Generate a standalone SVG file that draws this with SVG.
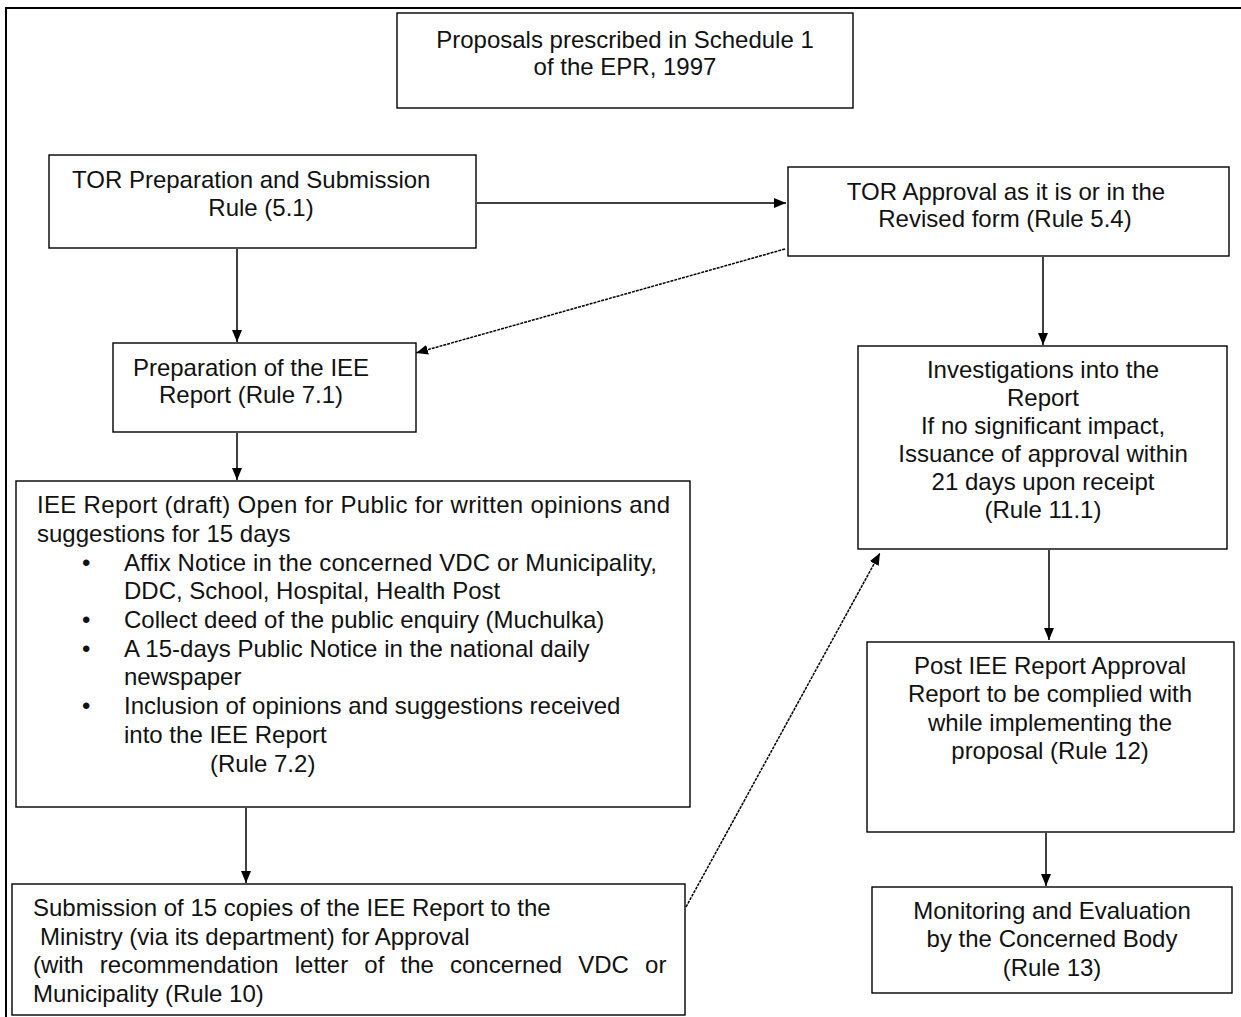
<svg xmlns="http://www.w3.org/2000/svg" width="1241" height="1017" viewBox="0 0 1241 1017">
  <style>
    .box { fill: #fff; stroke: #000; stroke-width: 1.4; }
    .t { font-family: "Liberation Sans", Arial, sans-serif; font-size: 24px; fill: #111; }
    .c { text-anchor: middle; }
    .ln { fill: none; stroke: #000; stroke-width: 1.5; }
    .dot { fill: none; stroke: #000; stroke-width: 1.5; stroke-dasharray: 3 1; }
  </style>
  <defs>
    <marker id="ah" viewBox="0 0 12 10" refX="12" refY="5" markerWidth="12" markerHeight="10" markerUnits="userSpaceOnUse" orient="auto">
      <path d="M0,0 L12,5 L0,10 z" fill="#000"/>
    </marker>
  </defs>
  <rect width="1241" height="1017" fill="#fff"/>
  <path d="M6,1017 V8 H1241" fill="none" stroke="#000" stroke-width="2"/>

  <g id="connectors">
    <line class="ln" x1="477" y1="203" x2="786" y2="203" marker-end="url(#ah)"/>
    <line class="ln" x1="237" y1="249" x2="237" y2="342" marker-end="url(#ah)"/>
    <line class="dot" x1="785" y1="249" x2="416" y2="353" marker-end="url(#ah)"/>
    <line class="ln" x1="1043" y1="257" x2="1043" y2="345" marker-end="url(#ah)"/>
    <line class="ln" x1="237" y1="433" x2="237" y2="480" marker-end="url(#ah)"/>
    <line class="ln" x1="246" y1="808" x2="246" y2="883" marker-end="url(#ah)"/>
    <line class="dot" x1="686" y1="907" x2="880" y2="553" marker-end="url(#ah)"/>
    <line class="ln" x1="1049" y1="550" x2="1049" y2="640" marker-end="url(#ah)"/>
    <line class="ln" x1="1046" y1="833" x2="1046" y2="886" marker-end="url(#ah)"/>
  </g>

  <g id="proposals">
    <rect class="box" x="397" y="13" width="456" height="95"/>
    <text class="t c" x="625" y="48">Proposals prescribed in Schedule 1</text>
    <text class="t c" x="625" y="75">of the EPR, 1997</text>
  </g>

  <g id="tor-prep">
    <rect class="box" x="49" y="155" width="427" height="93"/>
    <text class="t" x="72" y="188">TOR Preparation and Submission</text>
    <text class="t c" x="261" y="216">Rule (5.1)</text>
  </g>

  <g id="tor-approval">
    <rect class="box" x="788" y="167" width="441" height="89"/>
    <text class="t c" x="1006" y="200">TOR Approval as it is or in the</text>
    <text class="t c" x="1005" y="227">Revised form (Rule 5.4)</text>
  </g>

  <g id="iee-prep">
    <rect class="box" x="113" y="343" width="303" height="89"/>
    <text class="t c" x="251" y="376">Preparation of the IEE</text>
    <text class="t c" x="251" y="403">Report (Rule 7.1)</text>
  </g>

  <g id="investigations">
    <rect class="box" x="858" y="346" width="369" height="203"/>
    <text class="t c" x="1043" y="378">Investigations into the</text>
    <text class="t c" x="1043" y="406">Report</text>
    <text class="t c" x="1043" y="434">If no significant impact,</text>
    <text class="t c" x="1043" y="462">Issuance of approval within</text>
    <text class="t c" x="1043" y="490">21 days upon receipt</text>
    <text class="t c" x="1043" y="518">(Rule 11.1)</text>
  </g>

  <g id="iee-draft">
    <rect class="box" x="16" y="481" width="674" height="326"/>
    <text class="t" x="37" y="513" textLength="633" lengthAdjust="spacing">IEE Report (draft) Open for Public for written opinions and</text>
    <text class="t" x="37" y="542">suggestions for 15 days</text>
    <text class="t" x="82" y="571">•</text>
    <text class="t" x="124" y="571" textLength="533" lengthAdjust="spacing">Affix Notice in the concerned VDC or Municipality,</text>
    <text class="t" x="124" y="599">DDC, School, Hospital, Health Post</text>
    <text class="t" x="82" y="628">•</text>
    <text class="t" x="124" y="628">Collect deed of the public enquiry (Muchulka)</text>
    <text class="t" x="82" y="657">•</text>
    <text class="t" x="124" y="657">A 15-days Public Notice in the national daily</text>
    <text class="t" x="124" y="685">newspaper</text>
    <text class="t" x="82" y="714">•</text>
    <text class="t" x="124" y="714">Inclusion of opinions and suggestions received</text>
    <text class="t" x="124" y="743">into the IEE Report</text>
    <text class="t" x="210" y="772">(Rule 7.2)</text>
  </g>

  <g id="submission">
    <rect class="box" x="12" y="884" width="673" height="131"/>
    <text class="t" x="33" y="916">Submission of 15 copies of the IEE Report to the</text>
    <text class="t" x="40" y="945">Ministry (via its department) for Approval</text>
    <text class="t" x="33" y="973" word-spacing="9.5">(with recommendation letter of the concerned VDC or</text>
    <text class="t" x="33" y="1002">Municipality (Rule 10)</text>
  </g>

  <g id="post-approval">
    <rect class="box" x="867" y="642" width="367" height="190"/>
    <text class="t c" x="1050" y="674">Post IEE Report Approval</text>
    <text class="t c" x="1050" y="702">Report to be complied with</text>
    <text class="t c" x="1050" y="731">while implementing the</text>
    <text class="t c" x="1050" y="759">proposal (Rule 12)</text>
  </g>

  <g id="monitoring">
    <rect class="box" x="872" y="887" width="360" height="106"/>
    <text class="t c" x="1052" y="919">Monitoring and Evaluation</text>
    <text class="t c" x="1052" y="947">by the Concerned Body</text>
    <text class="t c" x="1052" y="976">(Rule 13)</text>
  </g>
</svg>
